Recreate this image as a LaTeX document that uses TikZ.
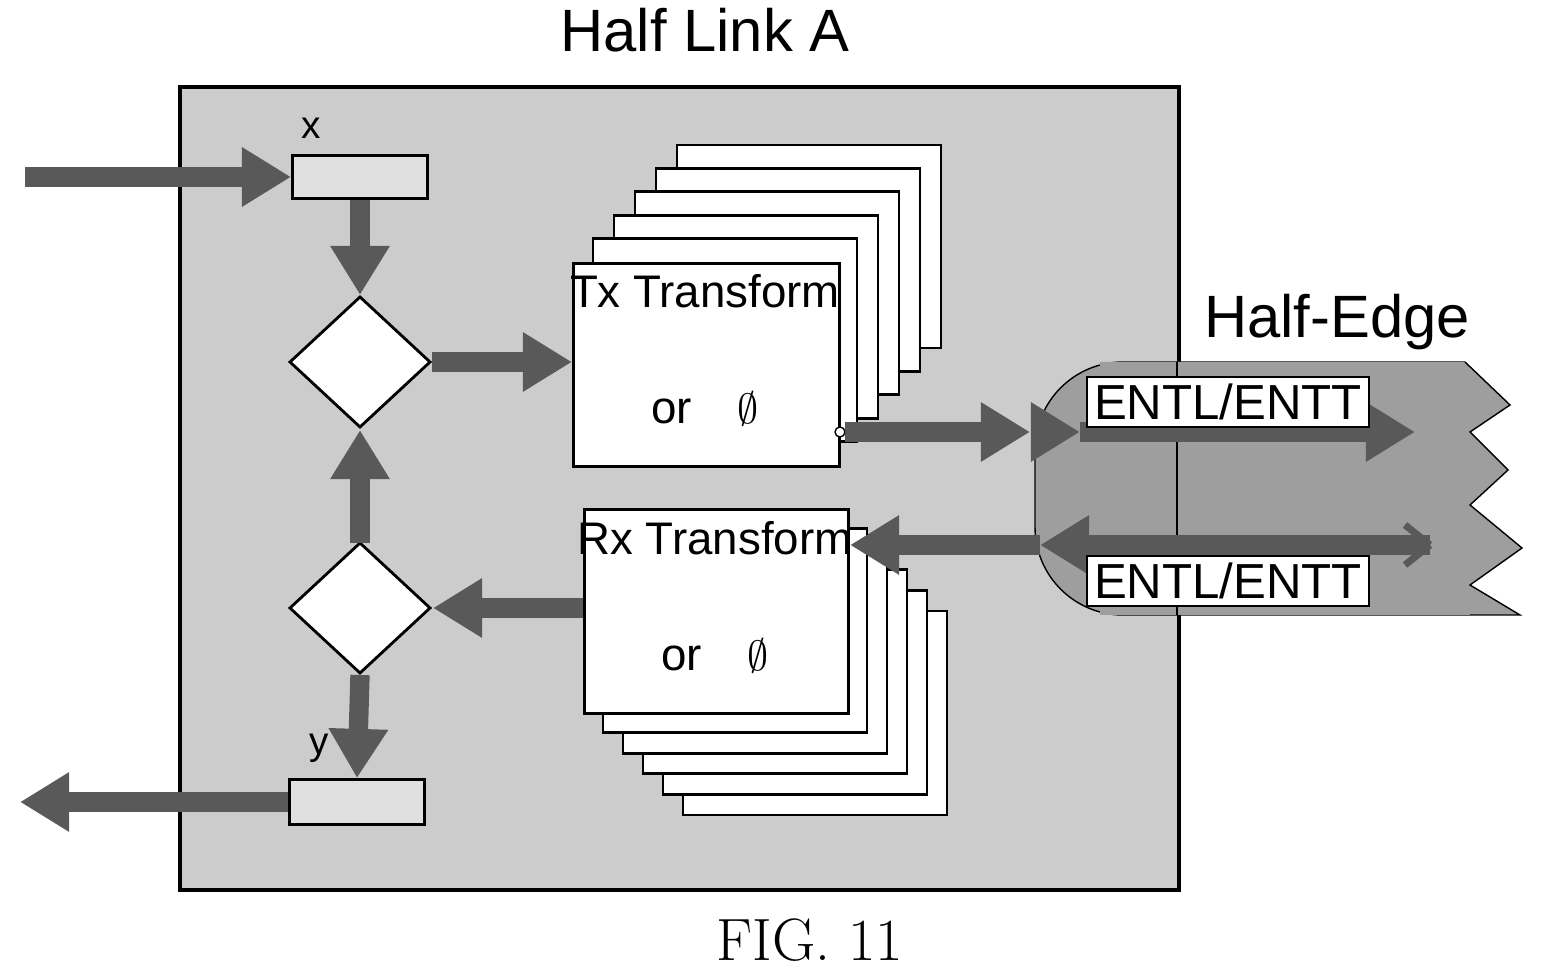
\documentclass[tikz,border=0pt]{standalone}
\usepackage{fontspec}
\setsansfont{Liberation Sans}
\usetikzlibrary{arrows.meta,positioning}
\tikzstyle{flow} = [draw=black!65, line width=5.5pt, -{Triangle[length=14pt,width=16pt]}]
\tikzstyle{card} = [draw, fill=white, line width=0.8pt]
\tikzstyle{reg} = [draw, fill=black!12, line width=0.8pt]
\tikzstyle{tag} = [draw, fill=white, inner sep=2pt, font=\sffamily\fontsize{14}{14}\selectfont]
\begin{document}
\begin{tikzpicture}[x=0.1mm,y=-0.1mm]
                    \useasboundingbox (0,0) rectangle (1549,970);
                    \node[draw, fill=black!20, line width=1pt, minimum width=99.9mm, minimum height=80.3mm, anchor=north west] (link) at (178,85) {};
                    \node[font=\sffamily\fontsize{17}{17}\selectfont] (title) at (705,30) {Half Link A};
                    % half edge
                    \draw[fill=black!38, rounded corners=25] (1465,362) -- (1035,362) -- (1035,615) -- (1470,615);
                    \fill[black!38] (1100,362) -- (1465,362) -- (1510,405) -- (1470,432) -- (1508,470) -- (1470,505) -- (1522,548) -- (1470,585) -- (1520,615) -- (1100,615) -- cycle;
                    \draw (1465,362) -- (1510,405) -- (1470,432) -- (1508,470) -- (1470,505) -- (1522,548) -- (1470,585) -- (1520,615) -- (1470,615);
                    \draw (1177,362) -- (1177,615);
                    \node[font=\sffamily\fontsize{17}{17}\selectfont] (edge) at (1337,322) {Half-Edge};
                    % transform stacks
                    \foreach \i in {5,4,...,1}
                        \draw[card] (572+21*\i,262-23.4*\i) rectangle ++(264,203);
                    \node[card, minimum width=26.6mm, minimum height=20.3mm, anchor=north west] (tx) at (572,262) {};
                    \node[font=\sffamily\fontsize{13}{13}\selectfont, align=center] at (705,350) {Tx Transform\\[20pt]or\quad$\emptyset$};
                    \foreach \i in {5,4,...,1}
                        \draw[card] (583+20*\i,508+20.6*\i) rectangle ++(264,204);
                    \node[card, minimum width=26.4mm, minimum height=20.4mm, anchor=north west] (rx) at (583,508) {};
                    \node[font=\sffamily\fontsize{13}{13}\selectfont, align=center] at (715,597) {Rx Transform\\[20pt]or\quad$\emptyset$};
                    % registers and decisions
                    \node[reg, minimum width=13.5mm, minimum height=4.3mm] (x) at (360,177) {};
                    \node[font=\sffamily\fontsize{11}{11}\selectfont, above left=1pt and -12pt of x.north west] {x};
                    \node[reg, minimum width=13.5mm, minimum height=4.5mm] (y) at (357,802) {};
                    \node[font=\sffamily\fontsize{11}{11}\selectfont, above left=1pt and -15pt of y.north west] {y};
                    \draw[card] (290,362) -- (360,297) -- (430,362) -- (360,427) -- cycle;
                    \coordinate (d1) at (360,362);
                    \draw[card] (290,608) -- (360,543) -- (430,608) -- (360,673) -- cycle;
                    \coordinate (d2) at (360,608);
                    % flows
                    \draw[flow] (25,177) -- (x.west);
                    \draw[flow] (x.south) -- (360,295);
                    \draw[flow] (432,362) -- (tx.west |- d1);
                    \draw[flow] (360,543) -- (360,430);
                    \draw[flow] (583,608) -- (433,608);
                    \draw[flow] (360,675) -- (y.north);
                    \draw[flow] (y.west) -- (20,802);
                    \draw[fill=white] (840,432) circle (5);
                    \draw[flow] (845,432) -- (1030,432);
                    \draw[flow] (1040,432) -- (1080,432);
                    \draw[flow] (1080,432) -- (1415,432);
                    \draw[flow] (1430,545) -- (1040,545);
                    \draw[flow] (1040,545) -- (850,545);
                    \draw[draw=black!65, line width=2pt] (1430,545) -- (1405,525) (1430,545) -- (1405,565);
                    \node[tag, minimum width=22.5mm, minimum height=4mm] (entl1) at (1228,402) {ENTL/ENTT};
                    \node[tag, minimum width=22.5mm, minimum height=4.3mm] (entl2) at (1228,581) {ENTL/ENTT};
                    \node[font=\fontsize{17}{17}\selectfont] (fig) at (810,940) {FIG. 11};
                \end{tikzpicture}
\end{document}
